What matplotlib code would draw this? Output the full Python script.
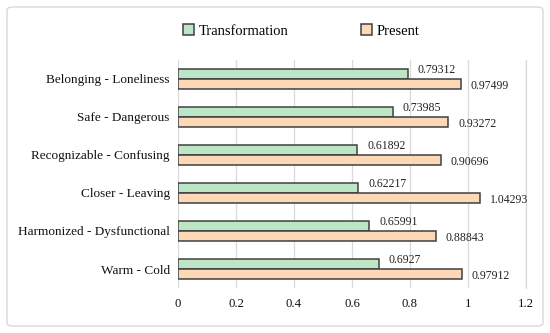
import matplotlib
matplotlib.use("Agg")
import matplotlib.pyplot as plt
import numpy as np
from matplotlib.patches import FancyBboxPatch

# categories listed bottom -> top
categories = ["Warm - Cold", "Harmonized - Dysfunctional", "Closer - Leaving",
              "Recognizable - Confusing", "Safe - Dangerous", "Belonging - Loneliness"]
transformation = [0.6927, 0.65991, 0.62217, 0.61892, 0.73985, 0.79312]
present = [0.97912, 0.88843, 1.04293, 0.90696, 0.93272, 0.97499]
xticks = [0, 0.2, 0.4, 0.6, 0.8, 1, 1.2]
xtick_labels = ["0", "0.2", "0.4", "0.6", "0.8", "1", "1.2"]

plt.rcParams["font.family"] = ["Liberation Serif", "DejaVu Serif"]

fig = plt.figure(figsize=(5.5, 3.33), dpi=100)
ax = fig.add_axes([178 / 550, 1 - 288 / 333, 348 / 550, 228 / 333])

# light rounded frame around the whole chart
frame = FancyBboxPatch((7 / 550, 7 / 333), 536 / 550, 319 / 333,
                       boxstyle="round,pad=0,rounding_size=0.01",
                       transform=fig.transFigure, fill=False,
                       edgecolor="#d9d9d9", linewidth=1.0)
fig.patches.append(frame)

y = np.arange(len(categories))
h = 0.27
green = "#bde6c6"
peach = "#fcd8b6"
edge = "#404040"

b1 = ax.barh(y + h / 2, transformation, height=h, color=green, edgecolor=edge,
             linewidth=1.1, label="Transformation", zorder=3)
b2 = ax.barh(y - h / 2, present, height=h, color=peach, edgecolor=edge,
             linewidth=1.1, label="Present", zorder=3)

for yi, v in zip(y, transformation):
    ax.annotate(str(v), (v, yi + h / 2), xytext=(7, 3), textcoords="offset points",
                ha="left", va="center", fontsize=8.5, color="#222222")
for yi, v in zip(y, present):
    ax.annotate(str(v), (v, yi - h / 2), xytext=(7, -1), textcoords="offset points",
                ha="left", va="center", fontsize=8.5, color="#222222")

ax.set_xlim(0, 1.2)
ax.set_ylim(-0.5, len(categories) - 0.5)
ax.set_xticks(xticks)
ax.set_xticklabels(xtick_labels)
ax.set_yticks(y)
ax.set_yticklabels(categories)
ax.tick_params(axis="x", length=0, labelsize=9.2, colors="#111111", pad=7)
ax.tick_params(axis="y", length=0, labelsize=9.5, colors="#111111", pad=6)
for s in ax.spines.values():
    s.set_visible(False)
ax.grid(axis="x", color="#d9d9d9", linewidth=0.9, zorder=0)
ax.set_axisbelow(True)
# gridline at the right limit
ax.axvline(1.2, color="#d9d9d9", linewidth=0.9, zorder=0, clip_on=False)

fig.legend(handles=[b1, b2], labels=["Transformation", "Present"],
           loc="center", bbox_to_anchor=(0.548, 1 - 31 / 333), ncol=2,
           frameon=False, fontsize=10.5, handlelength=0.7, handleheight=0.7,
           handletextpad=0.35, columnspacing=5.0)

fig.savefig("out.png", dpi=100)
